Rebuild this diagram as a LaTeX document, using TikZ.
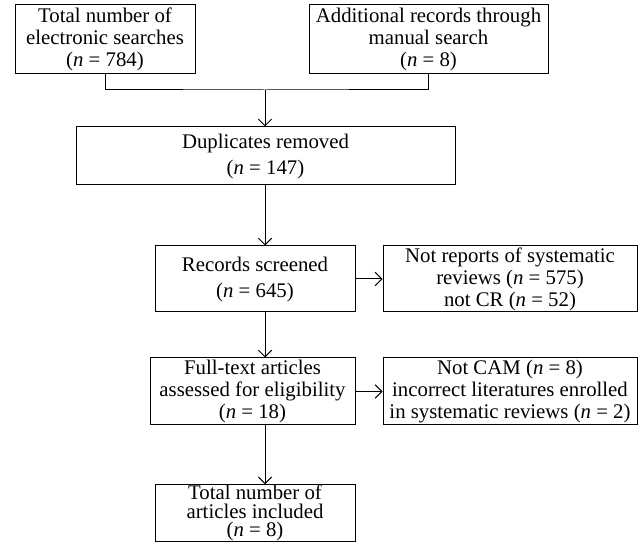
\documentclass[tikz,border=0pt]{standalone}
\usepackage{fontspec}
\setmainfont{Liberation Serif}
\usetikzlibrary{arrows.meta}
\tikzset{box/.style n args={2}{draw,line width=0.75pt,align=center,inner sep=0pt,
    minimum width=#1*0.75pt,minimum height=#2*0.75pt,font=\fontsize{15.6}{16.5}\selectfont},
  >={Straight Barb[length=5pt,width=10pt]}}
\begin{document}
\begin{tikzpicture}[x=0.75pt,y=-0.75pt,line width=0.75pt]
\useasboundingbox (0,0) rectangle (643,545);
\node[box={180}{69}] (srch) at (105,39.5) {Total number of\\electronic searches\\(\textit{n} = 784)};
\node[box={239}{69}] (manual) at (428.5,39.5) {Additional records through\\manual search\\(\textit{n} = 8)};
\node[box={379}{58}] (dup) at (265.5,156) {Duplicates removed\\[3pt](\textit{n} = 147)};
\node[box={200}{66}] (screen) at (255,279) {Records screened\\[3pt](\textit{n} = 645)};
\node[box={254}{66}] (notsr) at (510,279) {Not reports of systematic\\reviews (\textit{n} = 575)\\not CR (\textit{n} = 52)};
\node[box={205}{67}] (full) at (252.5,391.5) {Full-text articles\\assessed for eligibility\\(\textit{n} = 18)};
\node[box={254}{67}] (notcam) at (510,391.5) {Not CAM (\textit{n} = 8)\\incorrect literatures enrolled\\in systematic reviews (\textit{n} = 2)};
\node[box={200}{56},font=\fontsize{15.6}{14}\selectfont] (incl) at (255,513) {Total number of\\articles included\\(\textit{n} = 8)};

\coordinate (j) at (265,90);
\draw (srch.south) |- (j) -| (manual.south);
\draw[->] (j) -- (j |- dup.north);
\foreach \a/\b in {dup/screen,screen/full,full/incl} \draw[->] (\a.south -| j) -- (\b.north -| j);
\foreach \a/\b in {screen/notsr,full/notcam} \draw[->] (\a.east) -- (\b.west);
\end{tikzpicture}
\end{document}
